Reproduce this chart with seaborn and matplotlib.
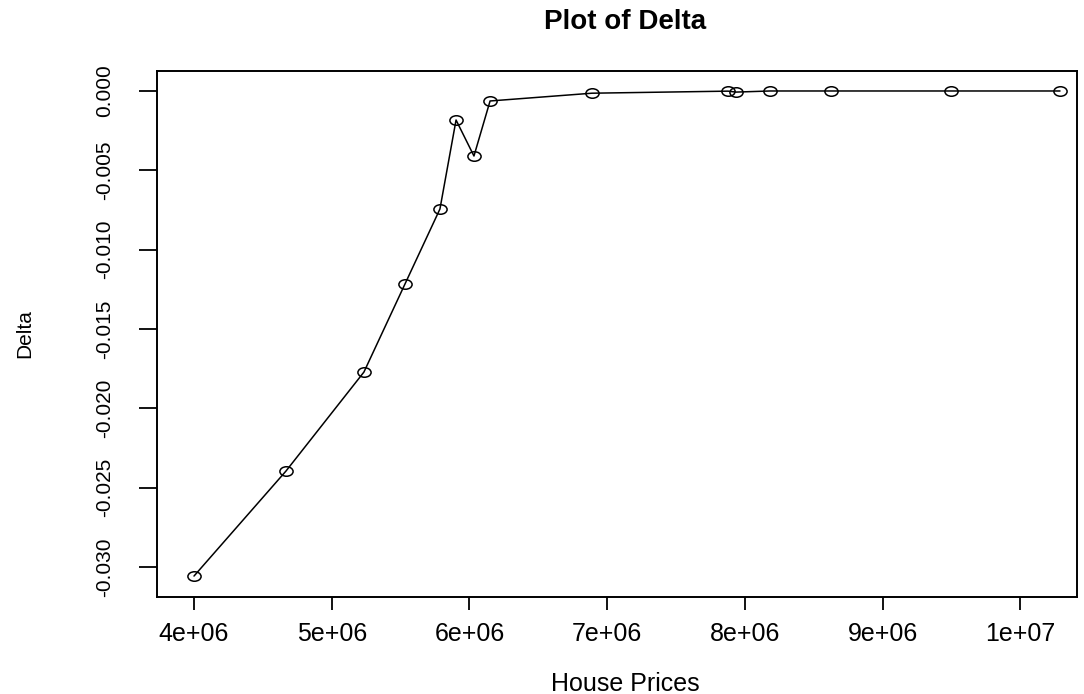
import numpy as np
import matplotlib
matplotlib.use("Agg")
import matplotlib.pyplot as plt
from matplotlib.path import Path
import seaborn as sns

# ---------------------- DATA ----------------------
house_prices = [4.000e6, 4.668e6, 5.234e6, 5.532e6, 5.786e6, 5.903e6, 6.033e6,
                6.150e6, 6.890e6, 7.878e6, 7.936e6, 8.183e6, 8.624e6, 9.495e6, 10.289e6]
delta = [-0.03058, -0.02396, -0.01772, -0.01217, -0.00744, -0.00183, -0.00410,
         -0.00063, -0.00014, -0.00001, -0.00007, 0.0, 0.0, 0.0, 0.0]
x_ticks = [4e6, 5e6, 6e6, 7e6, 8e6, 9e6, 1e7]
x_tick_labels = ["4e+06", "5e+06", "6e+06", "7e+06", "8e+06", "9e+06", "1e+07"]
y_ticks = [0.000, -0.005, -0.010, -0.015, -0.020, -0.025, -0.030]
y_tick_labels = ["0.000", "-0.005", "-0.010", "-0.015", "-0.020", "-0.025", "-0.030"]

# ---------------------- STYLE ----------------------
sns.set_style("ticks")
plt.rcParams['font.family'] = ['Liberation Sans', 'DejaVu Sans']
plt.rcParams['text.color'] = 'black'

# slightly flattened circle, like the stretched original
circ = Path.unit_circle()
ellipse = Path(circ.vertices * np.array([1.0, 0.72]), circ.codes)

fig = plt.figure(figsize=(10.84, 6.94), dpi=100)
ax = fig.add_axes([0.1448, 0.1398, 0.8487, 0.7579])

sns.lineplot(x=house_prices, y=delta, ax=ax, color="black", lw=1.1,
             marker=ellipse, markersize=9.5, markerfacecolor="none",
             markeredgecolor="black", markeredgewidth=1.1, sort=False)

ax.set_xlim(3.731e6, 10.412e6)
ax.set_ylim(-0.0319, 0.00126)

ax.set_xticks(x_ticks)
ax.set_xticklabels(x_tick_labels, fontsize=18)
ax.set_yticks(y_ticks)
ax.set_yticklabels(y_tick_labels, fontsize=15, rotation=90, va="center")
ax.tick_params(axis="x", direction="out", length=9, width=1.3, colors="black", pad=9)
ax.tick_params(axis="y", direction="out", length=13, width=1.3, colors="black", pad=18)

for s in ax.spines.values():
    s.set_visible(True)
    s.set_linewidth(1.4)
    s.set_color("black")

ax.set_xlabel("House Prices", fontsize=18, color="black")
ax.xaxis.set_label_coords(0.509, -0.1655)
ax.xaxis.label.set_va("center")
ax.set_ylabel("Delta", fontsize=15, color="black")
ax.yaxis.set_label_coords(-0.1435, 0.5)
ax.yaxis.label.set_va("center")
fig.text(625 / 1084, 1 - 22 / 694, "Plot of Delta", fontsize=20, fontweight="bold",
         ha="center", va="center", color="black")

fig.savefig("out.png", dpi=100)
